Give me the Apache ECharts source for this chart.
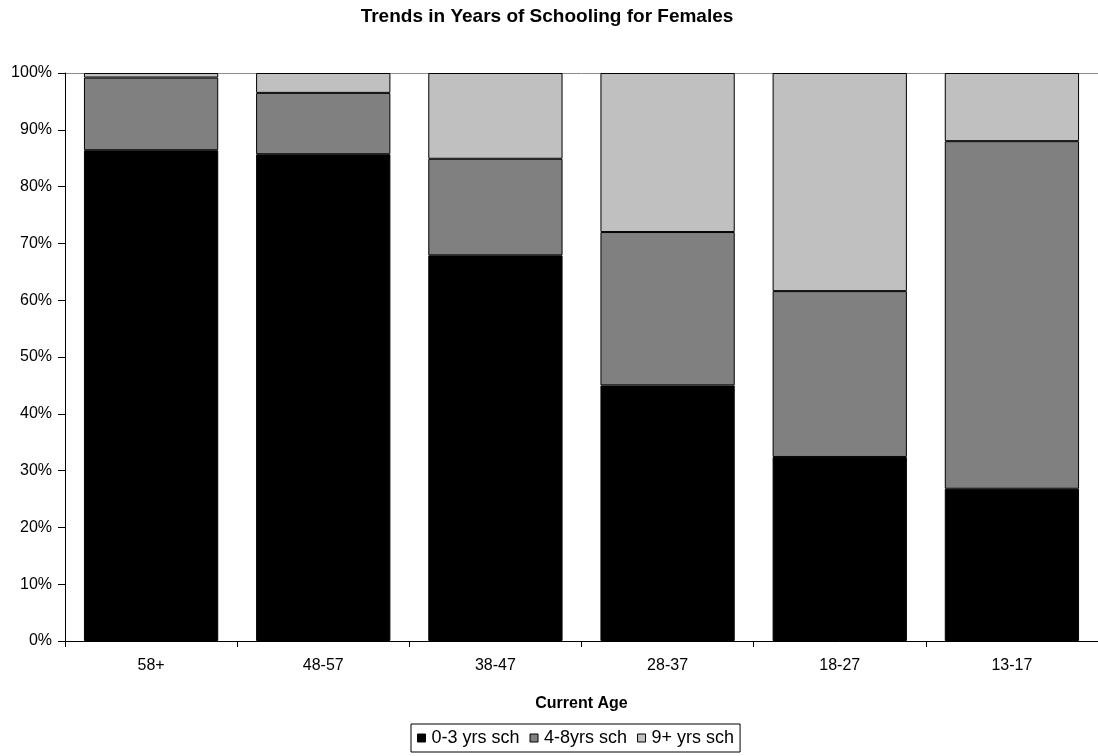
<!DOCTYPE html>
<html>
<head>
<meta charset="utf-8">
<title>Trends in Years of Schooling for Females</title>
<script src="https://cdn.jsdelivr.net/npm/echarts@6/dist/echarts.min.js"></script>
<style>
  html, body { margin: 0; padding: 0; background: #ffffff; }
  #chart { width: 1098px; height: 756px; }
</style>
</head>
<body>
<div id="chart"></div>
<script>
// Age groups along the x axis
const ageGroups = ['58+', '48-57', '38-47', '28-37', '18-27', '13-17'];

// Share of females (%) by years of schooling, per age group
const school0to3 = [86.4, 85.7, 67.9, 45.0, 32.4, 26.8];
const school4to8 = [12.8, 10.8, 17.0, 27.0, 29.2, 61.2];
const school9plus = [0.8, 3.5, 15.1, 28.0, 38.4, 12.0];

const seriesNames = ['0-3 yrs sch', '4-8yrs sch', '9+ yrs sch'];
const seriesColors = ['#000000', '#808080', '#c0c0c0'];

const FONT = '"Liberation Sans", Arial, sans-serif';

// only the 100% line of the value axis is drawn, in grey
const splitColors = ['rgba(0,0,0,0)', 'rgba(0,0,0,0)', 'rgba(0,0,0,0)', 'rgba(0,0,0,0)',
  'rgba(0,0,0,0)', 'rgba(0,0,0,0)', 'rgba(0,0,0,0)', 'rgba(0,0,0,0)',
  'rgba(0,0,0,0)', 'rgba(0,0,0,0)', '#8c8c8c'];

const chart = echarts.init(document.getElementById('chart'), null, { renderer: 'canvas' });

function barSeries(name, data, color) {
  return {
    name: name,
    type: 'bar',
    stack: 'total',
    data: data,
    barCategoryGap: '22%',
    itemStyle: { color: color, borderColor: '#000000', borderWidth: 1 },
    emphasis: { disabled: true }
  };
}

chart.setOption({
  animation: false,
  backgroundColor: '#ffffff',
  title: {
    text: 'Trends in Years of Schooling for Females',
    left: 542,
    textAlign: 'center',
    top: 2,
    textStyle: { fontFamily: FONT, fontSize: 19, fontWeight: 'bold', color: '#000000' }
  },
  grid: { left: 65, top: 73, width: 1036, height: 568 },
  legend: {
    data: seriesNames,
    top: 724,
    left: 411,
    itemWidth: 8,
    itemHeight: 8,
    itemGap: 10,
    padding: [5, 6, 5, 6],
    borderColor: '#000000',
    borderWidth: 1,
    icon: 'rect',
    textStyle: { fontFamily: FONT, fontSize: 18, color: '#000000', padding: [0, 0, 0, 1] },
    itemStyle: { borderColor: '#000000', borderWidth: 1 }
  },
  xAxis: {
    type: 'category',
    data: ageGroups,
    name: 'Current Age',
    nameLocation: 'middle',
    nameGap: 55,
    nameTextStyle: { fontFamily: FONT, fontSize: 16, fontWeight: 'bold', color: '#000000' },
    axisLine: { lineStyle: { color: '#000000', width: 1 } },
    axisTick: { show: true, length: 6, lineStyle: { color: '#000000' } },
    axisLabel: { fontFamily: FONT, fontSize: 16, color: '#000000', margin: 17 }
  },
  yAxis: {
    type: 'value',
    min: 0,
    max: 100,
    interval: 10,
    axisLine: { show: true, lineStyle: { color: '#000000', width: 1 } },
    axisTick: { show: true, length: 7, lineStyle: { color: '#000000' } },
    splitLine: { show: true, lineStyle: { color: splitColors, width: 1 } },
    axisLabel: { fontFamily: FONT, fontSize: 16, color: '#000000', margin: 13, formatter: '{value}%' }
  },
  series: [
    barSeries(seriesNames[0], school0to3, seriesColors[0]),
    barSeries(seriesNames[1], school4to8, seriesColors[1]),
    barSeries(seriesNames[2], school9plus, seriesColors[2])
  ]
});
</script>
</body>
</html>
